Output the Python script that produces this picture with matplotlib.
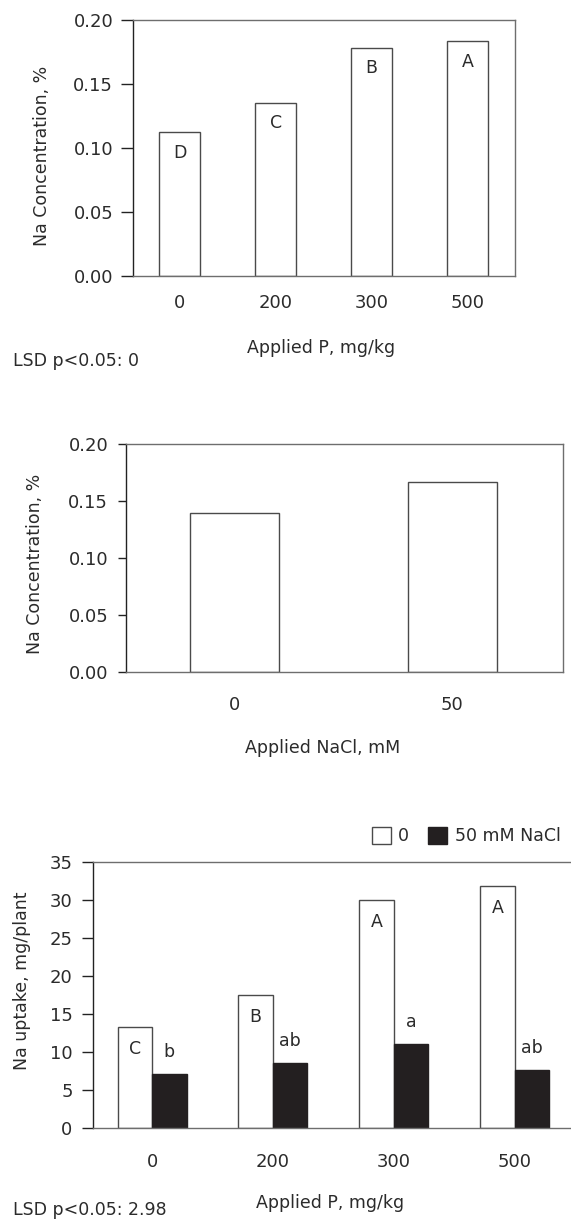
import numpy as np
import matplotlib.pyplot as plt
from matplotlib.patches import Patch
from matplotlib.ticker import FormatStrFormatter

# Na concentration vs applied P
p_levels = ["0", "200", "300", "500"]
na_conc_p = [0.112, 0.135, 0.178, 0.183]
na_conc_p_letters = ["D", "C", "B", "A"]
lsd_conc = "LSD p<0.05: 0"

# Na concentration vs applied NaCl
nacl_levels = ["0", "50"]
na_conc_nacl = [0.140, 0.167]

# Na uptake, two NaCl levels
uptake_0 = [13.3, 17.6, 30.1, 31.9]
uptake_50 = [7.1, 8.6, 11.1, 7.7]
uptake_0_letters = ["C", "B", "A", "A"]
uptake_50_letters = ["b", "ab", "a", "ab"]
uptake_legend = ["0", "50 mM NaCl"]
lsd_uptake = "LSD p<0.05: 2.98"

conc_ticks = [0.0, 0.05, 0.10, 0.15, 0.20]
uptake_ticks = [0, 5, 10, 15, 20, 25, 30, 35]

TXT = "#2b2b2b"
GRAY = "#6e6e6e"
DARK = "#222222"
EDGE = "#4a4a4a"
BLACK = "#231f20"
FS = 12.5

plt.rcParams["font.family"] = ["DejaVu Sans"]


def style_axes(ax, tick_len, tick_pad, xpad):
    for s in ax.spines.values():
        s.set_color(GRAY)
        s.set_linewidth(1)
    ax.spines["left"].set_color(DARK)
    ax.tick_params(axis="y", direction="out", length=tick_len, width=1,
                   pad=tick_pad, labelsize=13, color=DARK, labelcolor=TXT)
    ax.tick_params(axis="x", length=0, pad=xpad, labelsize=13, labelcolor=TXT)


fig = plt.figure(figsize=(5.71, 12.2), dpi=100)

# --- panel 1 ---
ax1 = fig.add_axes([0.2335, 0.7738, 0.669, 0.2101])
x = np.arange(len(p_levels))
ax1.bar(x, na_conc_p, width=0.43, color="white", edgecolor=EDGE, linewidth=1)
for xi, v, t in zip(x, na_conc_p, na_conc_p_letters):
    ax1.text(xi, v - 0.016, t, ha="center", va="center", fontsize=FS, color=TXT)
ax1.set_xlim(-0.483, 3.496)
ax1.set_ylim(0, 0.2)
ax1.set_xticks(x, p_levels)
ax1.set_yticks(conc_ticks)
ax1.yaxis.set_major_formatter(FormatStrFormatter("%.2f"))
style_axes(ax1, 9, 5.5, 13)
ax1.set_ylabel("Na Concentration, %", fontsize=FS, color=TXT, va="center")
ax1.yaxis.set_label_coords(-0.24, 0.469)
ax1.set_xlabel("Applied P, mg/kg", fontsize=FS, color=TXT, va="center")
ax1.xaxis.set_label_coords(0.492, -0.281)
fig.text(0.0233, 1 - 361 / 1220, lsd_conc, fontsize=FS, color=TXT, va="center")

# --- panel 2 ---
ax2 = fig.add_axes([0.2212, 0.4489, 0.7643, 0.1869])
x2 = np.arange(len(nacl_levels))
ax2.bar(x2, na_conc_nacl, width=0.409, color="white", edgecolor=EDGE, linewidth=1)
ax2.set_xlim(-0.499, 1.508)
ax2.set_ylim(0, 0.2)
ax2.set_xticks(x2, nacl_levels)
ax2.set_yticks(conc_ticks)
ax2.yaxis.set_major_formatter(FormatStrFormatter("%.2f"))
style_axes(ax2, 5.8, 7.2, 17)
ax2.set_ylabel("Na Concentration, %", fontsize=FS, color=TXT, va="center")
ax2.yaxis.set_label_coords(-0.209, 0.475)
ax2.set_xlabel("Applied NaCl, mM", fontsize=FS, color=TXT, va="center")
ax2.xaxis.set_label_coords(0.45, -0.333)

# --- panel 3 ---
ax3 = fig.add_axes([0.1634, 0.0752, 0.8384, 0.218])
x3 = np.arange(len(p_levels))
w = 0.285
ax3.bar(x3 - w / 2, uptake_0, width=w, color="white", edgecolor=EDGE, linewidth=1)
ax3.bar(x3 + w / 2, uptake_50, width=w, color=BLACK, edgecolor=BLACK, linewidth=1)
for xi, v, t in zip(x3, uptake_0, uptake_0_letters):
    ax3.text(xi - w / 2, v - 2.9, t, ha="center", va="center", fontsize=FS, color=TXT)
for xi, v, t in zip(x3, uptake_50, uptake_50_letters):
    ax3.text(xi + w / 2, v + 2.9, t, ha="center", va="center", fontsize=FS, color=TXT)
ax3.set_xlim(-0.486, 3.474)
ax3.set_ylim(0, 35)
ax3.set_xticks(x3, p_levels)
ax3.set_yticks(uptake_ticks)
style_axes(ax3, 7.7, 7.2, 18)
ax3.set_ylabel("Na uptake, mg/plant", fontsize=FS, color=TXT, va="center")
ax3.yaxis.set_label_coords(-0.1496, 0.556)
ax3.set_xlabel("Applied P, mg/kg", fontsize=FS, color=TXT, va="center")
ax3.xaxis.set_label_coords(0.494, -0.282)
handles = [Patch(facecolor="white", edgecolor=EDGE, linewidth=1),
           Patch(facecolor=BLACK, edgecolor=BLACK, linewidth=1)]
leg = ax3.legend(handles, uptake_legend, loc="center right",
                 bbox_to_anchor=(561 / 571, 1 - 836 / 1220),
                 bbox_transform=fig.transFigure, ncol=2, frameon=False,
                 fontsize=FS, handlelength=1.1, handleheight=1.1,
                 handletextpad=0.44, columnspacing=1.1, borderpad=0,
                 borderaxespad=0)
for t in leg.get_texts():
    t.set_color(TXT)
fig.text(0.022, 1 - 1210 / 1220, lsd_uptake, fontsize=FS, color=TXT, va="center")

fig.savefig("out.png", dpi=100)
